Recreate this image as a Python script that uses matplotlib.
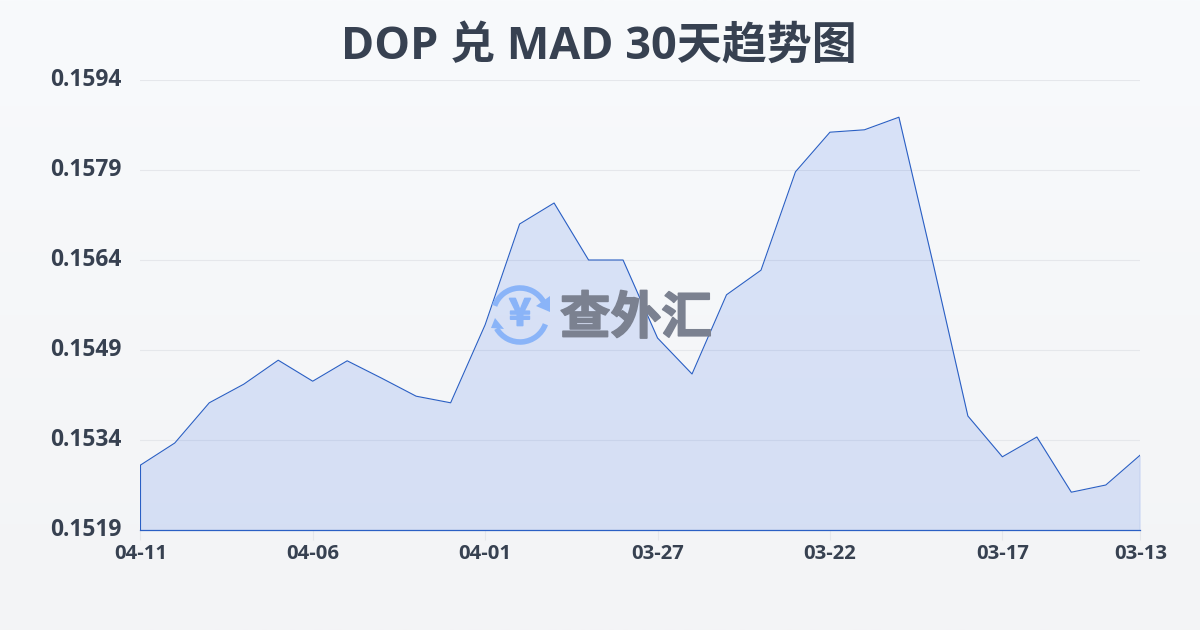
import numpy as np
import matplotlib
matplotlib.use("Agg")
import matplotlib.pyplot as plt
import matplotlib.patheffects as pe
from matplotlib.patches import Arc, Polygon
from matplotlib.colors import LinearSegmentedColormap

plt.rcParams['font.family'] = ['Open Sans', 'Noto Sans CJK SC', 'DejaVu Sans']

title = "DOP 兑 MAD 30天趋势图"
watermark = "查外汇"
values = [0.15298, 0.15335, 0.15402, 0.15433, 0.15473, 0.15438, 0.15472, 0.15443,
          0.15413, 0.15402, 0.15532, 0.15700, 0.15735, 0.15640, 0.15640, 0.15510,
          0.15450, 0.15582, 0.15623, 0.15787, 0.15853, 0.15857, 0.15878, 0.15632,
          0.15380, 0.15312, 0.15345, 0.15253, 0.15265, 0.15315]
x_tick_pos = [0, 5, 10, 15, 20, 25, 29]
x_tick_labels = ["04-11", "04-06", "04-01", "03-27", "03-22", "03-17", "03-13"]
y_ticks = [0.1519, 0.1534, 0.1549, 0.1564, 0.1579, 0.1594]

W, H = 1200, 630
fig = plt.figure(figsize=(W/100, H/100), dpi=100)

bg = fig.add_axes([0, 0, 1, 1], zorder=0)
bg.axis('off')
cm = LinearSegmentedColormap.from_list('bg', ['#f8fafc', '#f3f4f6'])
bg.imshow(np.linspace(0, 1, 256).reshape(-1, 1), aspect='auto', cmap=cm, extent=[0, W, H, 0])
bg.set_xlim(0, W); bg.set_ylim(H, 0)

ax = fig.add_axes([140.3/W, 1-530/H, 1000/W, 450/H], zorder=1)
ax.patch.set_alpha(0)
x = np.arange(len(values))
ax.set_xlim(0, 29)
ax.set_ylim(0.1519, 0.1594)
ax.fill_between(x, values, 0.1519, color='#3b6fe8', alpha=0.16, lw=0, zorder=2)
ax.plot(x, values, color='#2a5fc4', lw=0.8, zorder=3)
ax.plot([0, 0], [0.1519, values[0]], color='#2a5fc4', lw=0.8, zorder=3)
ax.plot([29, 29], [0.1519, values[-1]], color='#2a5fc4', lw=0.8, zorder=3)
ax.plot([0, 29], [0.1519, 0.1519], color='#2a5fc4', lw=0.9, zorder=3, clip_on=False)

for s in ax.spines.values():
    s.set_visible(False)
ax.set_yticks(y_ticks)
ax.set_yticklabels([f"{v:.4f}" for v in y_ticks], fontsize=16.4, fontweight='bold', color='#374151')
ax.set_xticks(x_tick_pos)
ax.set_xticklabels(x_tick_labels, fontsize=14.6, fontweight='bold', color='#374151')
ax.tick_params(axis='y', length=0, pad=13.5)
ax.tick_params(axis='x', length=7.2, width=0.8, color='#e5e7eb', pad=3)
ax.grid(axis='y', color='#e5e7eb', lw=0.8, zorder=1)
ax.set_axisbelow(True)
for lab in ax.get_yticklabels():
    lab.set_verticalalignment('center')

fig.text(599/W, 1-47/H, title, ha='center', va='center', fontsize=32.4, fontweight='bold', color='#374151', zorder=5)

ov = fig.add_axes([0, 0, 1, 1], zorder=4)
ov.axis('off'); ov.patch.set_alpha(0)
ov.set_xlim(0, W); ov.set_ylim(H, 0)
blue = '#8ab4f8'
cx, cy, d = 520, 315, 54
ov.add_patch(Arc((cx, cy), d, d, theta1=20, theta2=150, color=blue, lw=4.0))
ov.add_patch(Arc((cx, cy), d, d, theta1=200, theta2=330, color=blue, lw=4.0))
ov.add_patch(Polygon([[550, 296], [550, 312], [536, 306]], color=blue, lw=0))
ov.add_patch(Polygon([[491, 328], [504, 329], [495, 318]], color=blue, lw=0))
ov.text(cx, cy-1, "¥", ha='center', va='center', fontsize=27, fontweight='bold', color=blue,
        family=['Noto Sans CJK SC'], path_effects=[pe.withStroke(linewidth=1.2, foreground=blue)])
ov.text(636, 319, watermark, ha='center', va='center', fontsize=36.5, fontweight='bold', color='#7b8190',
        family=['Noto Sans CJK SC'], path_effects=[pe.withStroke(linewidth=1.2, foreground='#7b8190')])

fig.savefig('out.png', dpi=100)
